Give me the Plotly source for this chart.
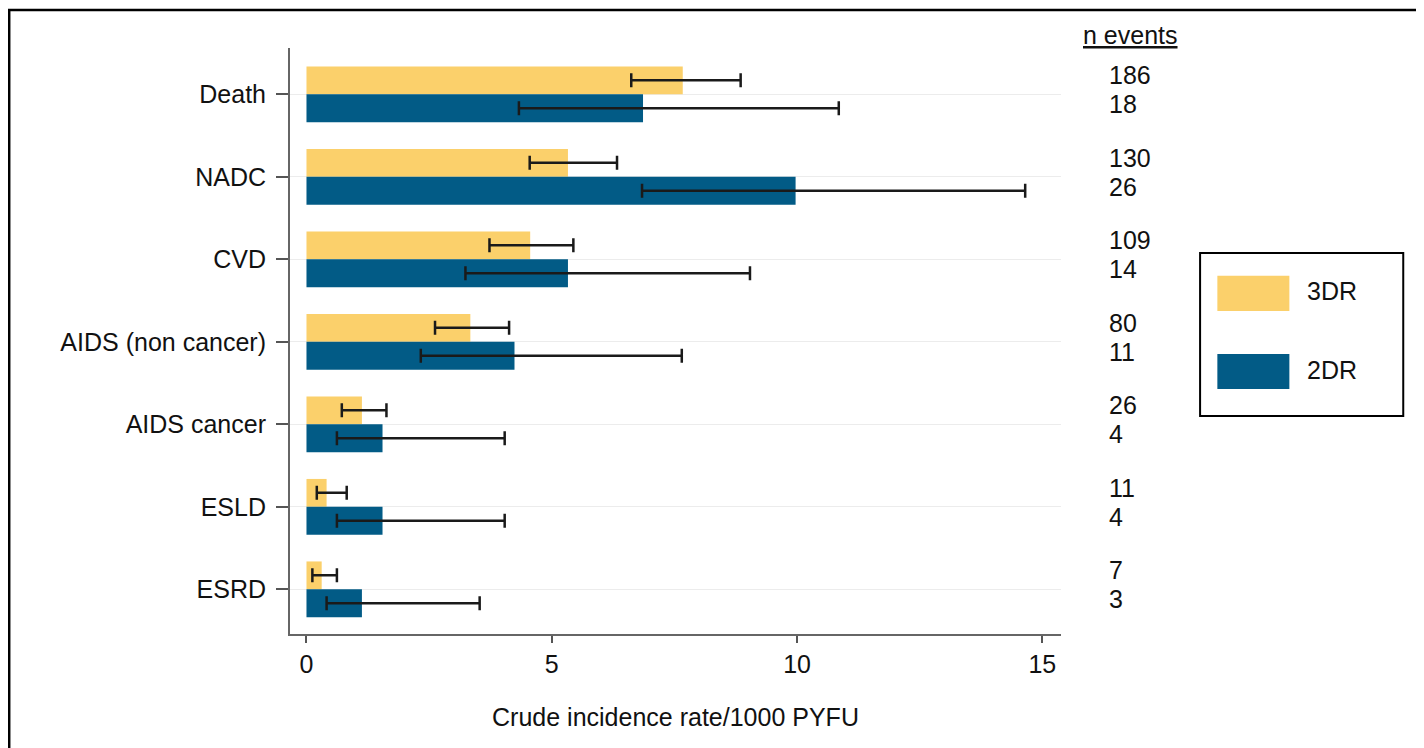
import plotly.graph_objects as go

categories = ["Death", "NADC", "CVD", "AIDS (non cancer)", "AIDS cancer", "ESLD", "ESRD"]

rate_3dr = [7.67, 5.33, 4.56, 3.34, 1.13, 0.41, 0.31]
lo_3dr = [6.62, 4.55, 3.73, 2.62, 0.72, 0.21, 0.12]
hi_3dr = [8.85, 6.33, 5.44, 4.13, 1.63, 0.82, 0.62]

rate_2dr = [6.86, 9.97, 5.33, 4.24, 1.55, 1.55, 1.13]
lo_2dr = [4.33, 6.84, 3.24, 2.33, 0.62, 0.62, 0.41]
hi_2dr = [10.85, 14.65, 9.04, 7.65, 4.04, 4.04, 3.53]

n_3dr = [186, 130, 109, 80, 26, 11, 7]
n_2dr = [18, 26, 14, 11, 4, 4, 3]

series_names = ["3DR", "2DR"]
colors = ["#FBD06B", "#025B86"]

FONT = "Liberation Sans, Arial, sans-serif"
FS = 25

fig = go.Figure()
for name, col, vals, lo, hi in [
    (series_names[0], colors[0], rate_3dr, lo_3dr, hi_3dr),
    (series_names[1], colors[1], rate_2dr, lo_2dr, hi_2dr),
]:
    fig.add_trace(go.Bar(
        y=categories, x=vals, orientation="h", name=name,
        marker=dict(color=col, line=dict(width=0)),
        error_x=dict(type="data", symmetric=False,
                     array=[h - v for h, v in zip(hi, vals)],
                     arrayminus=[v - l for v, l in zip(vals, lo)],
                     color="#1a1a1a", thickness=2.5, width=7),
        showlegend=False,
    ))

annotations = []
for cat, a, b in zip(categories, n_3dr, n_2dr):
    annotations.append(dict(x=1.0603, xref="paper", y=cat, yref="y", yshift=19,
                            text=str(a), showarrow=False, xanchor="left", yanchor="middle",
                            font=dict(size=FS, color="#111111", family=FONT)))
    annotations.append(dict(x=1.0603, xref="paper", y=cat, yref="y", yshift=-10,
                            text=str(b), showarrow=False, xanchor="left", yanchor="middle",
                            font=dict(size=FS, color="#111111", family=FONT)))
annotations.append(dict(x=1.090, xref="paper", y=1.022, yref="paper",
                        text="<u>n events</u>", showarrow=False,
                        xanchor="center", yanchor="middle",
                        font=dict(size=FS, color="#111111", family=FONT)))
# legend texts
annotations.append(dict(x=1.3165, xref="paper", y=0.5853, yref="paper",
                        text=series_names[0], showarrow=False, xanchor="left", yanchor="middle",
                        font=dict(size=FS, color="#111111", family=FONT)))
annotations.append(dict(x=1.3165, xref="paper", y=0.4505, yref="paper",
                        text=series_names[1], showarrow=False, xanchor="left", yanchor="middle",
                        font=dict(size=FS, color="#111111", family=FONT)))

shapes = [
    # outer frame
    dict(type="rect", xref="paper", yref="paper", x0=-0.3642, x1=1.50, y0=-0.25, y1=1.0648,
         line=dict(color="black", width=2.5), fillcolor="rgba(0,0,0,0)", layer="below"),
    # legend box
    dict(type="rect", xref="paper", yref="paper", x0=1.1804, x1=1.4439, y0=0.3720, y1=0.6502,
         line=dict(color="black", width=2), fillcolor="white"),
    dict(type="rect", xref="paper", yref="paper", x0=1.2028, x1=1.2962, y0=0.5512, y1=0.6114,
         line=dict(width=0), fillcolor=colors[0]),
    dict(type="rect", xref="paper", yref="paper", x0=1.2028, x1=1.2962, y0=0.4181, y1=0.4778,
         line=dict(width=0), fillcolor=colors[1]),
]

fig.update_layout(
    width=1424, height=748,
    margin=dict(l=282, r=370.5, t=40, b=122, autoexpand=False),
    paper_bgcolor="white", plot_bgcolor="white",
    barmode="group", bargap=0.325, bargroupgap=0,
    font=dict(family=FONT, size=FS, color="#111111"),
    annotations=annotations, shapes=shapes,
    showlegend=False,
)
fig.update_xaxes(
    range=[-0.336, 15.38], tickvals=[0, 5, 10, 15], ticks="outside", ticklen=7,
    tickwidth=2, tickcolor="#555555", showline=True, linecolor="#666666", linewidth=2,
    showgrid=False, zeroline=False, tickfont=dict(size=FS, color="#111111"),
    title=dict(text="Crude incidence rate/1000 PYFU", standoff=31,
               font=dict(size=FS, color="#111111")),
)
fig.update_yaxes(
    categoryorder="array", categoryarray=categories, range=[6.542, -0.561],
    ticks="outside", ticklen=12, tickwidth=2, tickcolor="#555555",
    showline=True, linecolor="#666666", linewidth=2,
    showgrid=True, gridcolor="#ECECEC", gridwidth=1, zeroline=False,
    tickfont=dict(size=FS, color="#111111"), ticklabelstandoff=5,
)

fig.write_html("out.html")
